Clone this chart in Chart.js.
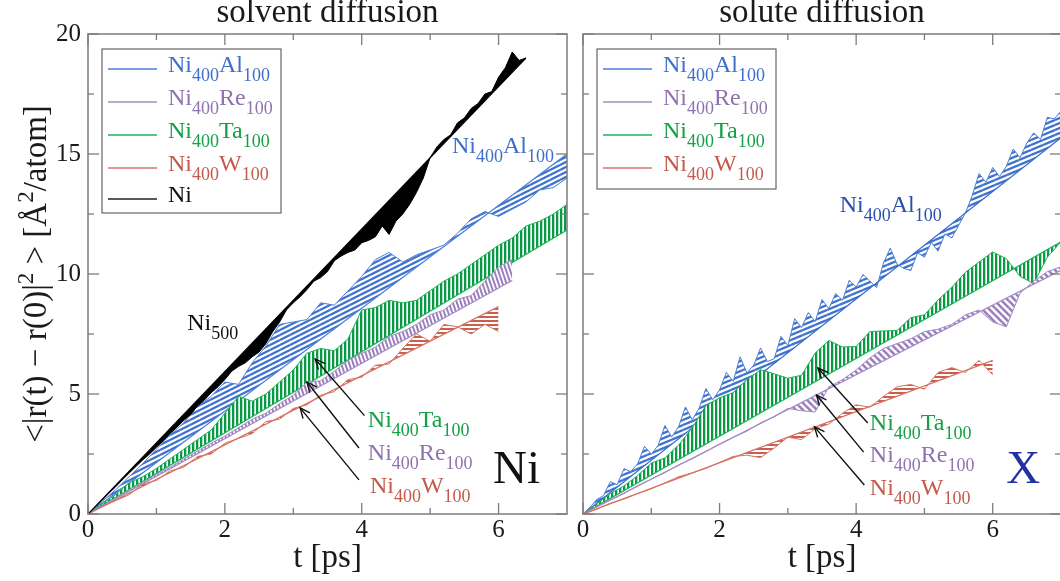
<!DOCTYPE html>
<html><head><meta charset="utf-8">
<script src="https://cdn.jsdelivr.net/npm/chart.js@4"></script>
<style>
html,body{margin:0;padding:0;background:#fff;overflow:hidden;width:1060px;height:581px}
#c1{position:absolute;left:0;top:0}
#c2{position:absolute;left:575px;top:0}
</style></head><body>
<canvas id="c1" width="575" height="581"></canvas>
<canvas id="c2" width="500" height="581"></canvas>
<script>
const SERIF = "'Liberation Serif', 'Times New Roman', Times, serif";

// ---------- time grids ----------
const tGrid = [0,0.2,0.4,0.6,0.8,1,1.2,1.4,1.6,1.8,2,2.2,2.4,2.6,2.8,3,3.2,3.4,3.6,3.8,4,4.2,4.4,4.6,4.8,5,5.2,5.4,5.6,5.8,6,6.2,6.4,6.6,6.8,7];
const tFine = [0,0.1,0.2,0.3,0.4,0.5,0.6,0.7,0.8,0.9,1,1.1,1.2,1.3,1.4,1.5,1.6,1.7,1.8,1.9,2,2.1,2.2,2.3,2.4,2.5,2.6,2.7,2.8,2.9,3,3.1,3.2,3.3,3.4,3.5,3.6,3.7,3.8,3.9,4,4.1,4.2,4.3,4.4,4.5,4.6,4.7,4.8,4.9,5,5.1,5.2,5.3,5.4,5.5,5.6,5.7,5.8,5.9,6,6.1,6.2,6.3,6.4,6.5,6.6,6.7,6.8,6.9,7];

// ---------- solvent diffusion (left) ----------
const solventAl = [0,0.5,1.0,1.55,2.1,2.7,3.3,3.8,4.5,4.9,5.5,5.4,6.3,7.0,7.9,8.0,8.1,8.8,8.7,9.3,9.9,10.6,10.9,10.5,10.8,11.0,11.2,11.7,12.3,12.6,12.4,12.7,13.0,13.5,13.6,14.0];
const solventRe = [0,0.33,0.66,1.0,1.32,1.65,1.95,2.3,2.62,2.95,3.25,3.6,3.95,4.2,4.6,4.95,5.5,5.55,5.95,6.4,6.7,6.95,7.4,7.6,7.9,8.3,8.5,8.95,9.1,9.7,10.3,10.6];
const solventTa = [0,0.4,0.8,1.3,1.55,1.9,2.3,2.7,3.1,3.5,4.2,4.9,4.7,5.0,5.5,6.0,6.7,6.9,6.8,7.3,8.5,8.6,8.9,8.8,8.9,9.3,9.7,10.0,10.4,10.8,11.2,11.5,12.0,12.2,12.5,12.9];
const solventW  = [0,0.3,0.55,0.8,1.25,1.4,1.8,1.95,2.4,2.5,2.95,3.15,3.35,3.85,3.95,4.4,4.55,4.95,5.1,5.6,5.7,6.2,6.25,6.9,7.5,7.2,7.9,7.8,7.5,7.9,7.6];
const solventNi = [0,0.28,0.55,0.85,1.12,1.42,1.7,1.98,2.25,2.5,
  2.78,3.05,3.35,3.62,3.9,4.15,4.5,4.75,5.05,5.3,
  5.6,5.95,6.15,6.3,6.55,6.75,7.1,7.6,8.0,8.5,
  8.8,9.05,9.35,9.7,9.85,10.1,10.55,10.75,10.9,11.0,
  11.3,11.4,11.55,12.0,11.65,12.2,12.5,12.9,13.4,14.0,
  14.85,15.3,15.6,15.8,16.3,16.5,16.9,17.1,17.5,17.6,
  18.2,18.6,19.25,18.9,19.0];
// straight-line fits [t, value]
const solventFitAl = [[0,0],[7,15.0]];
const solventFitRe = [[0,0],[6.2,9.73]];
const solventFitTa = [[0,0],[7,11.83]];
const solventFitW  = [[0,0],[6,8.64]];
const solventFitNi = [[0,0],[6.4,19.0]];

// ---------- solute diffusion (right) ----------
const soluteAl = [0,0.27,0.60,0.77,1.35,1.22,1.89,1.77,2.09,2.82,
  2.49,2.86,3.69,3.21,3.64,4.46,3.93,4.41,5.23,4.76,
  5.18,5.90,5.53,6.55,5.88,6.20,6.92,6.35,6.47,7.40,
  7.02,8.14,7.77,8.39,8.02,8.94,8.56,9.19,8.91,9.74,
  9.46,9.98,9.71,9.43,10.46,11.08,10.40,10.23,10.15,10.88,
  10.70,11.32,10.95,11.67,11.50,12.02,12.54,13.27,14.19,13.82,
  14.44,14.06,14.49,15.21,14.84,15.46,15.88,15.61,16.53,16.46,16.78];
const soluteRe = [0,0.3,0.58,0.85,1.18,1.45,1.72,2.05,2.3,2.6,2.92,3.2,3.45,3.8,4.05,4.4,4.3,4.25,5.3,5.6,6.0,6.5,6.9,7.1,7.3,7.6,7.7,7.9,8.3,8.5,8.0,7.8,9.2,9.7,10.1,10.3];
const soluteTa = [0,0.42,0.85,1.17,1.60,2.12,2.34,2.87,3.59,4.52,4.84,5.06,5.59,6.01,5.84,5.66,5.78,6.71,7.23,6.96,6.98,7.60,7.63,7.65,8.18,8.30,8.92,9.45,10.07,10.50,10.92,10.64,9.9,9.6,10.7,11.34];
const soluteW  = [0,0.2,0.45,0.62,0.85,1.05,1.3,1.55,1.72,1.9,2.15,2.4,2.45,2.35,2.75,3.2,3.1,3.55,3.75,4.2,4.55,4.45,4.9,5.3,5.4,5.2,5.9,6.1,5.9,6.4,5.8];
const soluteFitAl = [[0,0],[7,15.68]];
const soluteFitRe = [[0,0],[7,10.15]];
const soluteFitTa = [[0,0],[7,11.34]];
const soluteFitW  = [[0,0],[6,6.4]];

// ---------- axis ticks ----------
const xMajorTicks = [0,2,4,6];
const xMinorTicks = [1,3,5];
const yMajorTicks = [0,5,10,15,20];
const yMinorTicks = [2.5,7.5,12.5,17.5];

// ---------- labels ----------
const labelAl = ['Ni','400','Al','100'];
const labelRe = ['Ni','400','Re','100'];
const labelTa = ['Ni','400','Ta','100'];
const labelW  = ['Ni','400','W','100'];
const labelNi = ['Ni'];
const labelNi500 = ['Ni','500'];

// annotation anchors (data coordinates)
const solventArrowTail = [[4.04,4.1],[3.96,2.75],[3.96,1.42]];
const solventArrowHead = [[3.32,6.46],[3.2,5.5],[3.1,4.42]];
const solventNoteAt    = [[4.09,3.62],[4.09,2.25],[4.12,0.875]];
const solventAlNoteAt  = [5.32,15.04];
const solventNiNoteAt  = [1.45,7.67];
const solventBigAt     = [5.92,1.29];
const soluteArrowTail  = [[4.17,3.79],[4.11,2.58],[4.12,1.21]];
const soluteArrowHead  = [[3.44,6.08],[3.42,4.96],[3.39,3.63]];
const soluteNoteAt     = [[4.2,3.5],[4.2,2.17],[4.2,0.79]];
const soluteAlNoteAt   = [3.76,12.58];
const soluteBigAt      = [6.2,1.29];

// ---------- colours ----------
const C = {
  blue:'#3f72cf', blueLine:'#4a7fd8', purple:'#9c7fbd', purpleLine:'#a48cc6',
  green:'#0a9a45', greenLine:'#1db35a', red:'#cc5e4e', redLine:'#d67565',
  txtBlue:'#3e6fcb', txtBlueDark:'#2a4fb2', txtPurple:'#8f72b0', txtGreen:'#14a046', txtRed:'#c45a4c',
  frame:'#7c7c7c'
};

function stripePattern(target, color, W, H, segs, lw, rects) {
  const c = document.createElement('canvas'); c.width = W; c.height = H;
  const g = c.getContext('2d');
  g.fillStyle = '#fff'; g.fillRect(0,0,W,H);
  g.strokeStyle = color; g.fillStyle = color; g.lineWidth = lw;
  (segs||[]).forEach(([x1,y1,x2,y2]) => {
    [-W,0,W].forEach(dx => [-H,0,H].forEach(dy => {
      g.beginPath(); g.moveTo(x1+dx,y1+dy); g.lineTo(x2+dx,y2+dy); g.stroke();
    }));
  });
  (rects||[]).forEach(r => g.fillRect(r[0],r[1],r[2],r[3]));
  return target.createPattern(c,'repeat');
}

function richSegs(parts, main, sub, subDy) {
  return parts.map((t,i) => i % 2 === 0 ? {t, size:main, dy:0} : {t, size:sub, dy:subDy});
}
function drawRich(ctx, x, y, segs, color, align) {
  let w = 0;
  segs.forEach(s => { ctx.font = s.size + 'px ' + SERIF; s.w = ctx.measureText(s.t).width; w += s.w; });
  let cx = align === 'center' ? x - w/2 : (align === 'right' ? x - w : x);
  ctx.fillStyle = color; ctx.textAlign = 'left'; ctx.textBaseline = 'alphabetic';
  segs.forEach(s => { ctx.font = s.size + 'px ' + SERIF; ctx.fillText(s.t, cx, y + s.dy); cx += s.w; });
}
function arrow(ctx, x1, y1, x2, y2) {
  ctx.save(); ctx.strokeStyle = '#111'; ctx.lineWidth = 1.4;
  ctx.beginPath(); ctx.moveTo(x1,y1); ctx.lineTo(x2,y2); ctx.stroke();
  const a = Math.atan2(y2-y1, x2-x1), L = 11, h = 0.42;
  ctx.beginPath();
  ctx.moveTo(x2 - L*Math.cos(a-h), y2 - L*Math.sin(a-h));
  ctx.lineTo(x2, y2);
  ctx.lineTo(x2 - L*Math.cos(a+h), y2 - L*Math.sin(a+h));
  ctx.stroke(); ctx.restore();
}

function series(t, v, fit, line, pattern, order, fitColor) {
  return [
    {data: v.map((y,i) => ({x:t[i], y})), borderColor: line, borderWidth: 1, fill: '+1',
     backgroundColor: pattern, pointRadius: 0, tension: 0, order},
    {data: fit.map(p => ({x:p[0], y:p[1]})), borderColor: fitColor || line, borderWidth: 1.2,
     fill: false, pointRadius: 0, tension: 0, order: order - 0.5}
  ];
}

function framePlugin(cfg) {
  return {
    id: 'deco',
    afterDraw(chart) {
      const ctx = chart.ctx, a = chart.chartArea, xs = chart.scales.x, ys = chart.scales.y;
      ctx.save();
      ctx.strokeStyle = C.frame; ctx.lineWidth = 1.5;
      ctx.strokeRect(a.left, a.top, a.right - a.left, a.bottom - a.top);
      ctx.lineWidth = 1.3;
      const tick = (x1,y1,x2,y2) => { ctx.beginPath(); ctx.moveTo(x1,y1); ctx.lineTo(x2,y2); ctx.stroke(); };
      xMajorTicks.forEach(v => { const p = xs.getPixelForValue(v); tick(p,a.bottom,p,a.bottom-11); tick(p,a.top,p,a.top+11); });
      xMinorTicks.forEach(v => { const p = xs.getPixelForValue(v); tick(p,a.bottom,p,a.bottom-6); tick(p,a.top,p,a.top+6); });
      yMajorTicks.forEach(v => { const p = ys.getPixelForValue(v); tick(a.left,p,a.left+11,p); tick(a.right,p,a.right-11,p); });
      yMinorTicks.forEach(v => { const p = ys.getPixelForValue(v); tick(a.left,p,a.left+6,p); tick(a.right,p,a.right-6,p); });

      const cxm = (a.left + a.right) / 2;
      drawRich(ctx, cxm, a.top - 12, [{t:cfg.title, size:33, dy:0}], '#1a1a1a', 'center');
      drawRich(ctx, cxm, a.bottom + 53, [{t:'t [ps]', size:33, dy:0}], '#1a1a1a', 'center');
      if (cfg.yTitle) {
        ctx.save();
        ctx.translate(a.left - 42, (a.top + a.bottom) / 2);
        ctx.rotate(-Math.PI/2);
        drawRich(ctx, 0, 0, [
          {t:'<|r(t) \u2212 r(0)|', size:33, dy:0}, {t:'2', size:23, dy:-13},
          {t:' > [\u00C5', size:33, dy:0}, {t:'2', size:23, dy:-13}, {t:'/atom]', size:33, dy:0}
        ], '#1a1a1a', 'center');
        ctx.restore();
      }
      const lx = a.left + 14, ly = a.top + 15;
      ctx.fillStyle = '#fff'; ctx.fillRect(lx, ly, 179, cfg.legendH);
      ctx.strokeStyle = '#666'; ctx.lineWidth = 1.2; ctx.strokeRect(lx, ly, 179, cfg.legendH);
      cfg.legend.forEach((r, i) => {
        const y = ly + 20 + i * 33 - (i === 4 ? 2 : 0);
        ctx.strokeStyle = r.line; ctx.lineWidth = 1.3;
        ctx.beginPath(); ctx.moveTo(a.left + 20, y); ctx.lineTo(a.left + 69, y); ctx.stroke();
        drawRich(ctx, a.left + 80, y + 3, richSegs(r.label, 24, 18, 9), r.color, 'left');
      });
      cfg.arrowsTail.forEach((tl, i) => {
        const hd = cfg.arrowsHead[i];
        arrow(ctx, xs.getPixelForValue(tl[0]), ys.getPixelForValue(tl[1]), xs.getPixelForValue(hd[0]), ys.getPixelForValue(hd[1]));
      });
      cfg.notes.forEach(n => {
        drawRich(ctx, xs.getPixelForValue(n.at[0]), ys.getPixelForValue(n.at[1]), richSegs(n.label, 24, 18, 9), n.color, 'left');
      });
      drawRich(ctx, xs.getPixelForValue(cfg.big.at[0]), ys.getPixelForValue(cfg.big.at[1]), [{t:cfg.big.text, size:47, dy:0}], cfg.big.color, 'left');
      ctx.restore();
    }
  };
}

function scalesCfg(showY, yWidth) {
  return {
    x: {type:'linear', min:0, max:7,
        grid:{display:false, drawTicks:false}, border:{display:false},
        ticks:{stepSize:2, includeBounds:false, padding:1, maxRotation:0, autoSkip:false,
               color:'#1a1a1a', font:{family:SERIF, size:25}},
        afterFit: s => { s.height = 67; }},
    y: {type:'linear', min:0, max:20,
        grid:{display:false, drawTicks:false}, border:{display:false},
        ticks:{display:showY, stepSize:5, padding:7, color:'#1a1a1a', font:{family:SERIF, size:25}},
        afterFit: s => { s.width = yWidth; }}
  };
}

// ---------- left chart ----------
const ctx1 = document.getElementById('c1').getContext('2d');
const pBlueL   = stripePattern(ctx1, C.blue, 10, 5, [[0,5,10,0]], 2.3);
const pPurpleL = stripePattern(ctx1, C.purple, 4, 12, [[0,0,4,12]], 2.0);
const pGreen1  = stripePattern(ctx1, C.green, 4, 4, [], 0, [[0,0,2.3,4]]);
const pRedL    = stripePattern(ctx1, C.red, 4, 4, [], 0, [[0,0,4,2]]);

new Chart(ctx1, {
  type: 'line',
  data: { datasets: [
    ...series(tGrid, solventAl, solventFitAl, C.blueLine, pBlueL, 5),
    ...series(tGrid, solventTa, solventFitTa, C.greenLine, pGreen1, 4),
    ...series(tGrid, solventRe, solventFitRe, C.purpleLine, pPurpleL, 3),
    ...series(tGrid, solventW,  solventFitW,  C.redLine, pRedL, 2),
    ...series(tFine, solventNi, solventFitNi, '#000', '#000', 1)
  ]},
  options: {
    responsive:false, animation:false, events:[],
    layout:{padding:{top:34, right:8, left:0, bottom:0}},
    plugins:{legend:{display:false}, tooltip:{enabled:false}, title:{display:false}},
    scales: scalesCfg(true, 88)
  },
  plugins: [framePlugin({
    title:'solvent diffusion', yTitle:true, legendH:164,
    legend:[
      {label:labelAl, line:C.blueLine, color:C.txtBlue},
      {label:labelRe, line:C.purpleLine, color:C.txtPurple},
      {label:labelTa, line:C.greenLine, color:C.txtGreen},
      {label:labelW,  line:C.redLine, color:C.txtRed},
      {label:labelNi, line:'#222', color:'#111'}
    ],
    arrowsTail: solventArrowTail, arrowsHead: solventArrowHead,
    notes:[
      {label:labelTa, at:solventNoteAt[0], color:C.txtGreen},
      {label:labelRe, at:solventNoteAt[1], color:C.txtPurple},
      {label:labelW,  at:solventNoteAt[2], color:C.txtRed},
      {label:labelAl, at:solventAlNoteAt, color:C.txtBlue},
      {label:labelNi500, at:solventNiNoteAt, color:'#111'}
    ],
    big:{text:'Ni', at:solventBigAt, color:'#111'}
  })]
});

// ---------- right chart ----------
const ctx2 = document.getElementById('c2').getContext('2d');
const pBlueR   = stripePattern(ctx2, C.blue, 12, 5, [[0,5,12,0]], 2.3);
const pPurpleR = stripePattern(ctx2, C.purple, 7, 7, [[0,0,7,7]], 2.6);
const pGreen2  = stripePattern(ctx2, C.green, 4, 4, [], 0, [[0,0,2.3,4]]);
const pRedR    = stripePattern(ctx2, C.red, 4, 4, [], 0, [[0,0,4,2]]);

new Chart(ctx2, {
  type: 'line',
  data: { datasets: [
    ...series(tFine, soluteAl, soluteFitAl, C.blueLine, pBlueR, 5, '#3569c9'),
    ...series(tGrid, soluteTa, soluteFitTa, C.greenLine, pGreen2, 4),
    ...series(tGrid, soluteRe, soluteFitRe, C.purpleLine, pPurpleR, 3),
    ...series(tGrid, soluteW,  soluteFitW,  C.redLine, pRedR, 2)
  ]},
  options: {
    responsive:false, animation:false, events:[],
    layout:{padding:{top:34, right:14, left:0, bottom:0}},
    plugins:{legend:{display:false}, tooltip:{enabled:false}, title:{display:false}},
    scales: scalesCfg(false, 8)
  },
  plugins: [framePlugin({
    title:'solute diffusion', yTitle:false, legendH:140,
    legend:[
      {label:labelAl, line:C.blueLine, color:C.txtBlue},
      {label:labelRe, line:C.purpleLine, color:C.txtPurple},
      {label:labelTa, line:C.greenLine, color:C.txtGreen},
      {label:labelW,  line:C.redLine, color:C.txtRed}
    ],
    arrowsTail: soluteArrowTail, arrowsHead: soluteArrowHead,
    notes:[
      {label:labelTa, at:soluteNoteAt[0], color:C.txtGreen},
      {label:labelRe, at:soluteNoteAt[1], color:C.txtPurple},
      {label:labelW,  at:soluteNoteAt[2], color:C.txtRed},
      {label:labelAl, at:soluteAlNoteAt, color:C.txtBlueDark}
    ],
    big:{text:'X', at:soluteBigAt, color:'#2232a6'}
  })]
});
</script>
</body></html>
